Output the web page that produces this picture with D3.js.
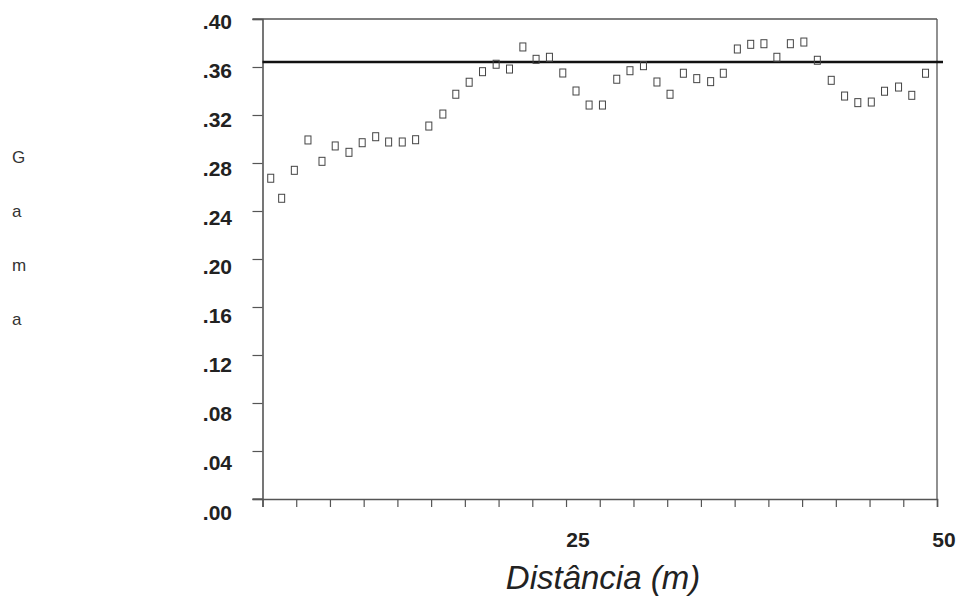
<!DOCTYPE html>
<html>
<head>
<meta charset="utf-8">
<script src="https://cdn.jsdelivr.net/npm/d3@7"></script>
<style>
	body { margin: 0; background: #fff; }
	svg { display: block; font-family: "Liberation Sans", Arial, sans-serif; }
</style>
</head>
<body>
<div id="chart"></div>
<script>
// lag distances (m) and gamma values
const lags = [0.61, 1.42, 2.36, 3.37, 4.41, 5.39, 6.41, 7.39, 8.39, 9.35,
	10.36, 11.35, 12.33, 13.37, 14.33, 15.32, 16.31, 17.32, 18.31, 19.30,
	20.28, 21.27, 22.26, 23.24, 24.21, 25.20, 26.26, 27.24, 28.24, 29.24,
	30.21, 31.20, 32.19, 33.22, 34.16, 35.20, 36.19, 37.17, 38.13, 39.13,
	40.13, 41.13, 42.16, 43.15, 44.13, 45.13, 46.11, 47.15, 48.13, 49.15]
const gamma = [0.2673, 0.2506, 0.2739, 0.2992, 0.2814, 0.2942, 0.2889, 0.2969, 0.3019, 0.2975,
	0.2975, 0.2994, 0.3108, 0.3208, 0.3373, 0.3473, 0.3561, 0.3623, 0.3583, 0.3767,
	0.3664, 0.3681, 0.3550, 0.3400, 0.3283, 0.3283, 0.3498, 0.3569, 0.3611, 0.3475,
	0.3373, 0.3548, 0.3503, 0.3478, 0.3548, 0.3750, 0.3789, 0.3794, 0.3681, 0.3794,
	0.3808, 0.3656, 0.3489, 0.3358, 0.3303, 0.3308, 0.3398, 0.3433, 0.3364, 0.3548]
const sill = 0.3642
const yTicks = [0, 0.04, 0.08, 0.12, 0.16, 0.20, 0.24, 0.28, 0.32, 0.36, 0.40]
const xMinorTicks = d3.range(0, 50.01, 2.5)
const xLabels = [25, 50]
const yTitle = ["G", "a", "m", "a"]
const xTitle = "Distância (m)"

const width = 962
const height = 601
const axisColor = "#555"

const x = d3.scaleLinear().domain([0, 50]).range([262.5, 937])
const y = d3.scaleLinear().domain([0, 0.4]).range([499, 19])
// the printed labels drift a little from their ticks in the scan
const yLabelPos = d3.scaleLinear().domain([0, 0.4]).range([512, 21])
const xLabelPos = d3.scaleLinear().domain([25, 50]).range([578, 944])

const data = lags.map((d, i) => ({ lag: d, value: gamma[i] }))

const svg = d3.select("#chart").append("svg")
	.attr("width", width)
	.attr("height", height)

// frame: top and right borders
svg.append("line")
	.attr("x1", x(0) - 10).attr("x2", x(50))
	.attr("y1", y(0.4)).attr("y2", y(0.4))
	.attr("stroke", axisColor).attr("stroke-width", 1.3)
svg.append("line")
	.attr("x1", x(50)).attr("x2", x(50))
	.attr("y1", y(0.4)).attr("y2", y(0))
	.attr("stroke", axisColor).attr("stroke-width", 1.3)

// y axis
const yAxis = svg.append("g")
	.attr("transform", `translate(${x(0)},0)`)
	.call(d3.axisLeft(y).tickValues(yTicks).tickSize(10).tickFormat(""))
yAxis.select(".domain").attr("stroke", axisColor).attr("stroke-width", 1.6)
yAxis.selectAll(".tick line").attr("stroke", axisColor).attr("stroke-width", 1.2)

svg.append("g").selectAll("text")
	.data(yTicks)
	.join("text")
	.attr("x", 232)
	.attr("y", d => yLabelPos(d))
	.attr("dy", "0.36em")
	.attr("text-anchor", "end")
	.attr("font-size", 21)
	.attr("font-weight", "bold")
	.attr("fill", "#222")
	.text(d => d3.format(".2f")(d).replace(/^0/, ""))

// x axis
const xAxis = svg.append("g")
	.attr("transform", `translate(0,${y(0)})`)
	.call(d3.axisBottom(x).tickValues(xMinorTicks).tickSize(8).tickFormat(""))
xAxis.select(".domain").attr("stroke", axisColor).attr("stroke-width", 1.6)
xAxis.selectAll(".tick line").attr("stroke", axisColor).attr("stroke-width", 1.2)
svg.append("line")
	.attr("x1", x(0) - 10).attr("x2", x(0))
	.attr("y1", y(0)).attr("y2", y(0))
	.attr("stroke", axisColor).attr("stroke-width", 1.3)

svg.append("g").selectAll("text")
	.data(xLabels)
	.join("text")
	.attr("x", d => xLabelPos(d))
	.attr("y", 547)
	.attr("text-anchor", "middle")
	.attr("font-size", 21)
	.attr("font-weight", "bold")
	.attr("fill", "#222")
	.text(d => d)

svg.append("text")
	.attr("x", 603)
	.attr("y", 589)
	.attr("text-anchor", "middle")
	.attr("font-size", 33)
	.attr("font-style", "italic")
	.attr("fill", "#222")
	.text(xTitle)

// vertical "Gama" title, one letter per row
svg.append("g").selectAll("text")
	.data(yTitle)
	.join("text")
	.attr("x", 12)
	.attr("y", (d, i) => 163 + i * 54)
	.attr("font-size", 17)
	.attr("fill", "#333")
	.text(d => d)

// sill line
svg.append("line")
	.attr("x1", x(0)).attr("x2", x(50) + 6)
	.attr("y1", y(sill)).attr("y2", y(sill))
	.attr("stroke", "#111").attr("stroke-width", 2.6)

// experimental semivariogram points
svg.append("g").selectAll("rect")
	.data(data)
	.join("rect")
	.attr("x", d => x(d.lag) - 3)
	.attr("y", d => y(d.value) - 4)
	.attr("width", 6)
	.attr("height", 8)
	.attr("fill", "none")
	.attr("stroke", "#444")
	.attr("stroke-width", 1)
</script>
</body>
</html>
